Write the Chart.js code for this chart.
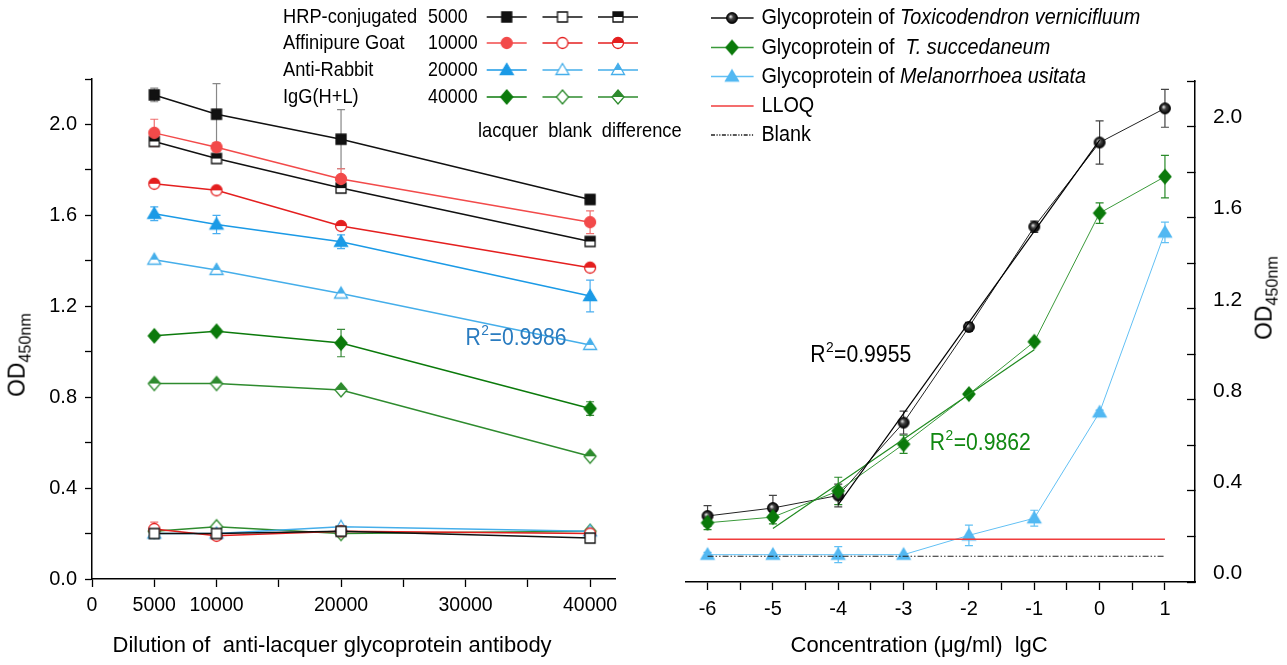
<!DOCTYPE html>
<html>
<head>
<meta charset="utf-8">
<script src="https://cdn.jsdelivr.net/npm/chart.js@4.4.0/dist/chart.umd.min.js"></script>
<style>
  body { margin: 0; background: #fff; }
  #wrap { position: relative; width: 1287px; height: 665px; overflow: hidden; background: #fff;
          font-family: "Liberation Sans", Arial, sans-serif; }
  canvas { position: absolute; top: 0; }
  #cA { left: 0; }
  #cB { left: 650px; }
  .yt { position: absolute; width: 0; height: 0; }
  .yt span { position: absolute; white-space: nowrap; font-size: 24px; color: #000;
             transform: translate(-50%, -50%) rotate(-90deg) scaleX(0.95); left: 0; top: 0; }
  .yt sub { font-size: 17px; }
</style>
</head>
<body>
<div id="wrap">
  <canvas id="cA" width="690" height="665"></canvas>
  <canvas id="cB" width="637" height="665"></canvas>
  <div class="yt" style="left:19px;top:355px"><span>OD<sub>450nm</sub></span></div>
  <div class="yt" style="left:1266px;top:298px"><span>OD<sub>450nm</sub></span></div>
</div>
<script>
const FONT = '"Liberation Sans", Arial, sans-serif';
Chart.defaults.font.family = FONT;
Chart.defaults.color = '#000';

// ---- left panel: dilution of the antibody ----
const dilutions = [5000, 10000, 20000, 40000];
const lacq5000  = [2.13, 2.045, 1.935, 1.67];
const diff5000  = [1.925, 1.85, 1.72, 1.485];
const blank5000 = [0.20, 0.20, 0.21, 0.18];
const lacq10000  = [1.963, 1.90, 1.76, 1.57];
const diff10000  = [1.739, 1.71, 1.553, 1.37];
const blank10000 = [0.22, 0.19, 0.21, 0.20];
const lacq20000  = [1.607, 1.56, 1.484, 1.245];
const diff20000  = [1.405, 1.36, 1.256, 1.03];
const blank20000 = [0.20, 0.20, 0.23, 0.21];
const lacq40000  = [1.07, 1.09, 1.038, 0.75];
const diff40000  = [0.86, 0.86, 0.832, 0.54];
const blank40000 = [0.21, 0.23, 0.20, 0.21];
const errLacq5000  = [0.03, 0.135, 0.13, 0.02];
const errLacq10000 = [0.06, 0.02, 0.045, 0.05];
const errLacq20000 = [0.03, 0.04, 0.03, 0.07];
const errLacq40000 = [0.01, 0.01, 0.06, 0.03];
const errBlank10000 = [0.03, 0, 0, 0];

const dilTicks  = [0, 5000, 10000, 15000, 20000, 25000, 30000, 35000, 40000];
const dilLabels = ['0', '5000', '10000', '', '20000', '', '30000', '', '40000'];
const odTicks  = [0, 0.2, 0.4, 0.6, 0.8, 1.0, 1.2, 1.4, 1.6, 1.8, 2.0, 2.2];
const odLabels = ['0.0', '', '0.4', '', '0.8', '', '1.2', '', '1.6', '', '2.0', ''];
const dilGroups = ['5000', '10000', '20000', '40000'];
const antibodyName = ['HRP-conjugated', 'Affinipure Goat', 'Anti-Rabbit', 'IgG(H+L)'];
const columnNames = ['lacquer', 'blank', 'difference'];

// ---- right panel: concentration ----
const logConc = [-6, -5, -4, -3, -2, -1, 0, 1];
const toxico    = [0.29, 0.325, 0.38, 0.70, 1.12, 1.56, 1.93, 2.08];
const toxicoErr = [0.045, 0.055, 0.05, 0.05, 0.02, 0.025, 0.095, 0.083];
const succed    = [0.26, 0.285, 0.40, 0.605, 0.825, 1.055, 1.62, 1.78];
const succedErr = [0.03, 0.03, 0.06, 0.04, 0.01, 0.01, 0.045, 0.093];
const melan     = [0.12, 0.12, 0.12, 0.12, 0.205, 0.28, 0.745, 1.535];
const melanErr  = [0.01, 0, 0.035, 0, 0.045, 0.035, 0.01, 0.045];
const toxicoFitX = [-4, 0], toxicoFitY = [0.34, 1.94];
const succedFitX = [-5, -1], succedFitY = [0.235, 1.02];
const lloqX = [-6, 1], lloqY = [0.188, 0.188];
const blankX = [-6, 1], blankY = [0.113, 0.113];
const concTicks  = [-6, -5.5, -5, -4.5, -4, -3.5, -3, -2.5, -2, -1.5, -1, -0.5, 0, 0.5, 1];
const concLabels = ['-6', '', '-5', '', '-4', '', '-3', '', '-2', '', '-1', '', '0', '', '1'];

const BLACK = '#111', RED = '#e41f1f', RED_L = '#f24a4a', BLUE = '#1b9ae6', BLUE_L = '#45aeea',
      GREEN = '#0b7a0b', GREEN_L = '#2e8b2e', SKY = '#52b8f2';

// marker images used as point styles and in the legends
function marker(shape, color, fill) {
  const c = document.createElement('canvas');
  c.width = 18; c.height = 18;
  const g = c.getContext('2d');
  const cx = 9, cy = 9;
  const path = () => {
    g.beginPath();
    if (shape === 'square') g.rect(cx - 5, cy - 5, 10, 10);
    else if (shape === 'circle') g.arc(cx, cy, 5.5, 0, Math.PI * 2);
    else if (shape === 'triangle') { g.moveTo(cx, cy - 6.5); g.lineTo(cx + 6.5, cy + 4.5); g.lineTo(cx - 6.5, cy + 4.5); g.closePath(); }
    else if (shape === 'diamond') { g.moveTo(cx, cy - 7); g.lineTo(cx + 6, cy); g.lineTo(cx, cy + 7); g.lineTo(cx - 6, cy); g.closePath(); }
  };
  g.lineWidth = 1.3;
  if (fill === 'ball') {
    const grad = g.createRadialGradient(cx - 1.5, cy - 1.5, 0.5, cx, cy, 5.5);
    grad.addColorStop(0, '#d8d8d8'); grad.addColorStop(0.35, '#444'); grad.addColorStop(1, '#000');
    g.beginPath(); g.arc(cx, cy, 5.5, 0, Math.PI * 2); g.fillStyle = grad; g.fill();
    g.strokeStyle = '#000'; g.lineWidth = 0.8; g.stroke();
    return c;
  }
  path();
  g.fillStyle = fill === 'full' ? color : '#fff';
  g.fill();
  if (fill === 'half') {
    g.save(); g.beginPath(); g.rect(0, 0, 18, cy); g.clip();
    path(); g.fillStyle = color; g.fill(); g.restore();
  }
  path(); g.strokeStyle = color; g.stroke();
  return c;
}

const pts = (xs, ys) => xs.map((x, i) => ({ x: x, y: ys[i] }));

function series(ys, lineColor, img, err, errColor, xs) {
  return {
    data: pts(xs || dilutions, ys), borderColor: lineColor, borderWidth: 1.5,
    pointStyle: img, pointRadius: 6, tension: 0, fill: false,
    errBars: err, errColor: errColor
  };
}

// condensed text, the figure's font is narrow
function condText(ctx, str, x, y, sx, align) {
  ctx.save();
  ctx.translate(x, y);
  ctx.scale(sx, 1);
  ctx.textAlign = align || 'left';
  ctx.fillText(str, 0, 0);
  ctx.restore();
  return ctx.measureText(str).width * sx;
}

const mk = {
  lacq:  [marker('square', BLACK, 'full'), marker('circle', RED_L, 'full'), marker('triangle', BLUE, 'full'), marker('diamond', GREEN, 'full')],
  blank: [marker('square', BLACK, 'none'), marker('circle', RED, 'none'), marker('triangle', BLUE_L, 'none'), marker('diamond', GREEN_L, 'none')],
  diff:  [marker('square', BLACK, 'half'), marker('circle', RED, 'half'), marker('triangle', BLUE_L, 'half'), marker('diamond', GREEN_L, 'half')]
};
const lineCol = {
  lacq:  [BLACK, RED_L, BLUE, GREEN],
  blank: [BLACK, RED, BLUE_L, GREEN_L],
  diff:  [BLACK, RED, BLUE_L, GREEN_L]
};

const errorBars = {
  id: 'errorBars',
  beforeDatasetsDraw(chart) {
    const ctx = chart.ctx, ys = chart.scales.y;
    chart.data.datasets.forEach((ds, i) => {
      if (!ds.errBars) return;
      const meta = chart.getDatasetMeta(i);
      ctx.save();
      ctx.strokeStyle = ds.errColor; ctx.lineWidth = 1.2;
      meta.data.forEach((p, j) => {
        const e = ds.errBars[j];
        if (!e) return;
        const v = ds.data[j].y;
        const t = ys.getPixelForValue(v + e), b = ys.getPixelForValue(v - e);
        ctx.beginPath();
        ctx.moveTo(p.x, t); ctx.lineTo(p.x, b);
        ctx.moveTo(p.x - 4, t); ctx.lineTo(p.x + 4, t);
        ctx.moveTo(p.x - 4, b); ctx.lineTo(p.x + 4, b);
        ctx.stroke();
      });
      ctx.restore();
    });
  }
};

function drawR2(ctx, x, y, val, color) {
  ctx.save();
  ctx.fillStyle = color; ctx.textBaseline = 'alphabetic';
  ctx.font = '23px ' + FONT;
  let w = condText(ctx, 'R', x, y, 0.92);
  ctx.font = '15px ' + FONT;
  w += condText(ctx, '2', x + w + 0.5, y - 10, 0.92);
  ctx.font = '23px ' + FONT;
  condText(ctx, '=' + val, x + w + 1, y, 0.92);
  ctx.restore();
}

const leftExtras = {
  id: 'leftExtras',
  afterDraw(chart) {
    const ctx = chart.ctx, xs = chart.scales.x, ys = chart.scales.y;
    drawR2(ctx, xs.getPixelForValue(30000), ys.getPixelForValue(1.03), '0.9986', '#2a7cc0');
    // legend grid
    ctx.save();
    ctx.fillStyle = '#000'; ctx.textBaseline = 'middle';
    ctx.font = '21px ' + FONT;
    const rows = [17, 43, 70, 97];
    const cols = [506.7, 562.5, 618];
    const kinds = ['lacq', 'blank', 'diff'];
    rows.forEach((ry, r) => {
      ctx.fillStyle = '#000';
      condText(ctx, antibodyName[r], 283, ry, 0.87);
      condText(ctx, dilGroups[r], 428, ry, 0.85);
      kinds.forEach((k, c) => {
        ctx.strokeStyle = lineCol[k][r]; ctx.lineWidth = 1.5;
        ctx.beginPath(); ctx.moveTo(cols[c] - 20, ry); ctx.lineTo(cols[c] + 20, ry); ctx.stroke();
        const im = mk[k][r];
        ctx.drawImage(im, cols[c] - im.width / 2, ry - im.height / 2);
      });
    });
    ctx.fillStyle = '#000';
    [508, 570, 641.7].forEach((cx, i) => condText(ctx, columnNames[i], cx, 131, 0.87, 'center'));
    ctx.restore();
  }
};

const leftSets = [];
['lacq', 'diff', 'blank'].forEach(k => {
  const src = { lacq: [lacq5000, lacq10000, lacq20000, lacq40000],
                diff: [diff5000, diff10000, diff20000, diff40000],
                blank: [blank5000, blank10000, blank20000, blank40000] }[k];
  const errs = { lacq: [errLacq5000, errLacq10000, errLacq20000, errLacq40000],
                 diff: [null, null, null, null],
                 blank: [null, errBlank10000, null, null] }[k];
  const errCols = ['#888', '#f07070', '#4aaef0', '#3a8a3a'];
  src.forEach((ys, r) => leftSets.push(series(ys, lineCol[k][r], mk[k][r], errs[r], errCols[r])));
});

new Chart(document.getElementById('cA'), {
  type: 'line',
  data: { datasets: leftSets },
  plugins: [errorBars, leftExtras],
  options: {
    responsive: false, animation: false,
    layout: { padding: { left: 0, top: 79, right: 75, bottom: 0 } },
    plugins: { legend: { display: false }, tooltip: { enabled: false } },
    scales: {
      x: {
        type: 'linear', min: 0, max: 42000,
        afterBuildTicks: s => { s.ticks = dilTicks.map(v => ({ value: v })); },
        afterFit: s => { s.height = 86; },
        grid: { drawOnChartArea: false, tickLength: 8, tickColor: '#000', tickWidth: 1.3 },
        border: { color: '#000', width: 1.5 },
        ticks: { color: '#000', font: { size: 19.5 }, padding: 7, maxRotation: 0, autoSkip: false,
                 callback: (v, i) => dilLabels[i] },
        title: { display: true, text: 'Dilution of  anti-lacquer glycoprotein antibody       ', color: '#000',
                 font: { size: 22 }, padding: { top: 0, bottom: 6 } }
      },
      y: {
        type: 'linear', min: 0, max: 2.2,
        afterBuildTicks: s => { s.ticks = odTicks.map(v => ({ value: v })); },
        afterFit: s => { s.width = 92; },
        grid: { drawOnChartArea: false, tickLength: 7, tickColor: '#000', tickWidth: 1.3 },
        border: { color: '#000', width: 1.5 },
        ticks: { color: '#000', font: { size: 20 }, padding: 8, autoSkip: false,
                 callback: (v, i) => odLabels[i] }
      }
    }
  }
});

// ---- right chart ----
const ballImg = marker('circle', '#000', 'ball');
const greenDia = marker('diamond', GREEN, 'full');
const skyTri = marker('triangle', SKY, 'full');

const rightSets = [
  { data: pts(lloqX, lloqY), borderColor: '#f03c3c', borderWidth: 1.5, pointRadius: 0 },
  { data: pts(blankX, blankY), borderColor: '#222', borderWidth: 1.2, borderDash: [6, 2, 1.5, 2, 1.5, 2], pointRadius: 0 },
  { data: pts(toxicoFitX, toxicoFitY), borderColor: '#000', borderWidth: 1.2, pointRadius: 0 },
  { data: pts(succedFitX, succedFitY), borderColor: '#1f8a1f', borderWidth: 1.2, pointRadius: 0 },
  series(melan, '#62c0f4', skyTri, melanErr, '#62c0f4', logConc),
  series(succed, '#3a9a3a', greenDia, succedErr, '#2a8a2a', logConc),
  series(toxico, '#222', ballImg, toxicoErr, '#444', logConc)
];
rightSets.slice(4).forEach(d => { d.borderWidth = 1; });

const rightExtras = {
  id: 'rightExtras',
  afterDraw(chart) {
    const ctx = chart.ctx, xs = chart.scales.x, ys = chart.scales.y;
    drawR2(ctx, xs.getPixelForValue(-4.43), ys.getPixelForValue(0.966), '0.9955', '#000');
    drawR2(ctx, xs.getPixelForValue(-2.6), ys.getPixelForValue(0.579), '0.9862', '#118811');
    // legend
    const off = 650;
    const rows = [18, 47.5, 76.5, 106, 135];
    const x0 = 711 - off, x1 = 753.6 - off, xm = 732 - off, tx = 761.4 - off;
    ctx.save();
    ctx.textBaseline = 'middle'; ctx.fillStyle = '#000';
    const items = [
      { col: '#111', img: ballImg, pre: 'Glycoprotein of ', it: 'Toxicodendron vernicifluum' },
      { col: '#3a9a3a', img: greenDia, pre: 'Glycoprotein of  ', it: 'T. succedaneum' },
      { col: '#62c0f4', img: skyTri, pre: 'Glycoprotein of ', it: 'Melanorrhoea usitata' },
      { col: '#f03c3c', pre: 'LLOQ' },
      { col: '#222', dash: [4, 1.5, 1.2, 1.5, 1.2, 1.5], pre: 'Blank' }
    ];
    items.forEach((it, i) => {
      const ry = rows[i];
      ctx.strokeStyle = it.col; ctx.lineWidth = 1.3;
      ctx.setLineDash(it.dash || []);
      ctx.beginPath(); ctx.moveTo(x0, ry); ctx.lineTo(x1, ry); ctx.stroke();
      ctx.setLineDash([]);
      if (it.img) ctx.drawImage(it.img, xm - it.img.width / 2, ry - it.img.height / 2);
      ctx.font = '22px ' + FONT;
      const w = condText(ctx, it.pre, tx, ry, 0.9);
      if (it.it) {
        ctx.font = 'italic 22px ' + FONT;
        condText(ctx, it.it, tx + w, ry, 0.9);
      }
    });
    ctx.restore();
  }
};

new Chart(document.getElementById('cB'), {
  type: 'line',
  data: { datasets: rightSets },
  plugins: [errorBars, rightExtras],
  options: {
    responsive: false, animation: false,
    layout: { padding: { left: 36, top: 81, right: 0, bottom: 0 } },
    plugins: { legend: { display: false }, tooltip: { enabled: false } },
    scales: {
      x: {
        type: 'linear', min: -6.33, max: 1.46,
        afterBuildTicks: s => { s.ticks = concTicks.map(v => ({ value: v })); },
        afterFit: s => { s.height = 83; },
        grid: { drawOnChartArea: false, tickLength: 8, tickColor: '#000', tickWidth: 1.3 },
        border: { color: '#000', width: 1.5 },
        ticks: { color: '#000', font: { size: 20 }, padding: 7, maxRotation: 0, autoSkip: false,
                 callback: (v, i) => concLabels[i] },
        title: { display: true, text: 'Concentration (\u03bcg/ml)  lgC       ', color: '#000',
                 font: { size: 22 }, padding: { top: 0, bottom: 6 } }
      },
      y: {
        type: 'linear', position: 'right', min: 0, max: 2.2,
        afterBuildTicks: s => { s.ticks = odTicks.map(v => ({ value: v })); },
        afterFit: s => { s.width = 92; },
        grid: { drawOnChartArea: false, tickLength: -8, tickColor: '#000', tickWidth: 1.3 },
        border: { color: '#000', width: 1.5 },
        ticks: { color: '#000', font: { size: 21 }, padding: 26, labelOffset: -9, autoSkip: false,
                 callback: (v, i) => odLabels[i] }
      }
    }
  }
});
</script>
</body>
</html>
